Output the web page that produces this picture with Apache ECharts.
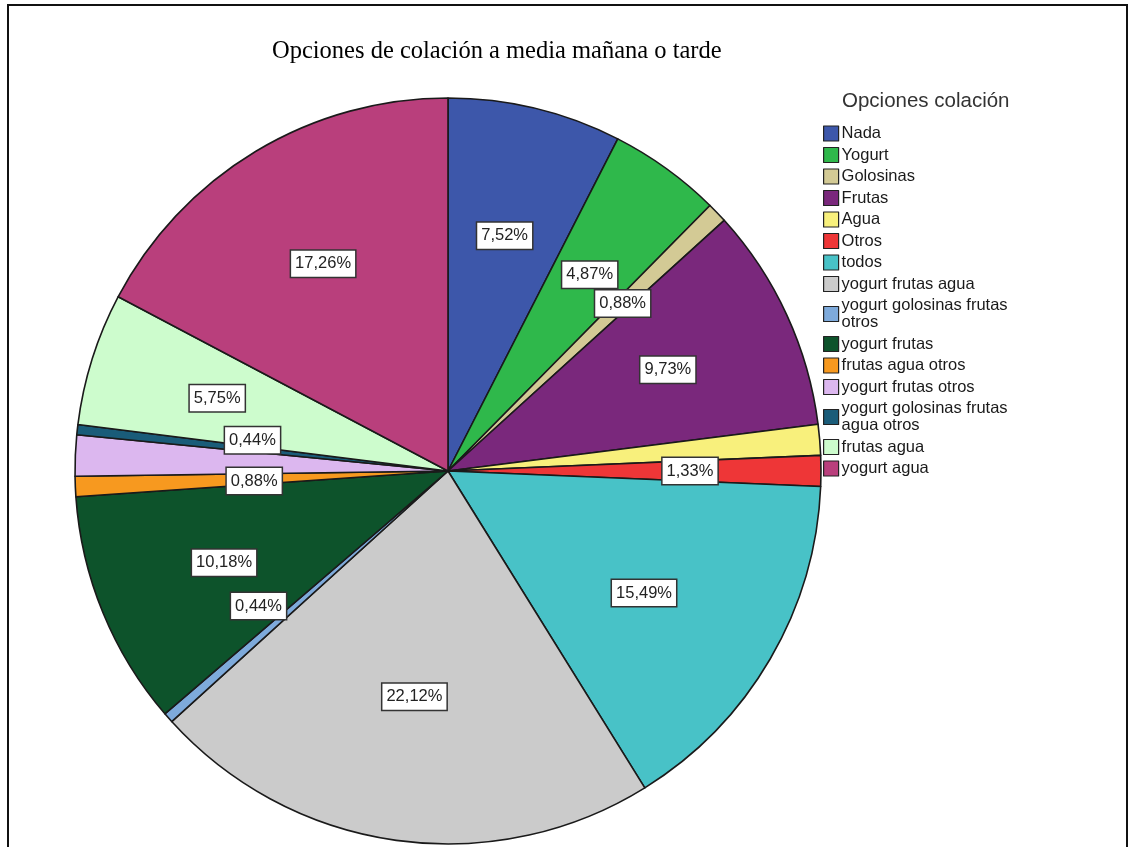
<!DOCTYPE html>
<html>
<head>
<meta charset="utf-8">
<script src="https://cdn.jsdelivr.net/npm/echarts@6/dist/echarts.min.js"></script>
<style>
  html, body { margin: 0; padding: 0; background: #ffffff; }
  #chart { width: 1131px; height: 847px; }
</style>
</head>
<body>
<div id="chart"></div>
<script>
// Snack options (percent of respondents)
const categories = [
  'Nada', 'Yogurt', 'Golosinas', 'Frutas', 'Agua', 'Otros', 'todos',
  'yogurt frutas agua', 'yogurt golosinas frutas otros', 'yogurt frutas',
  'frutas agua otros', 'yogurt frutas otros',
  'yogurt golosinas frutas agua otros', 'frutas agua', 'yogurt agua'
];
const shares = [
  7.52, 4.87, 0.88, 9.73, 1.33, 1.33, 15.49,
  22.12, 0.44, 10.18,
  0.88, 1.77,
  0.44, 5.75, 17.26
];
const sliceColors = [
  '#3d57aa', '#2fb84b', '#d3ca95', '#7a287c', '#f8f07c', '#ee3637', '#48c2c7',
  '#cbcbcb', '#7eaadb', '#0d532b',
  '#f7991f', '#dcb7ef',
  '#1a5c79', '#cdfccd', '#b93f7c'
];
// slices drawn without a value tag
const unlabelled = ['Agua', 'yogurt frutas otros'];

const CX = 448, CY = 471, R = 373;
const LABEL_R = 242;
// small offsets for tags that sit in crowded spots
const tagNudge = { 6: [-13, 0], 7: [0, -14], 8: [-8, -25], 10: [48, 0], 12: [45, -4] };

const fmtPct = v => v.toFixed(2).replace('.', ',') + '%';

const chart = echarts.init(document.getElementById('chart'), null, { renderer: 'canvas' });

chart.setOption({
  backgroundColor: '#ffffff',
  animation: false,
  title: [
    {
      text: 'Opciones de colación a media mañana o tarde',
      left: 267, top: 34,
      textStyle: { fontFamily: 'Liberation Serif', fontSize: 24.5, fontWeight: 'normal', color: '#000' }
    },
    {
      text: 'Opciones colación',
      left: 837, top: 86,
      textStyle: { fontFamily: 'Liberation Sans', fontSize: 20.5, fontWeight: 'normal', color: '#333' }
    }
  ],
  legend: {
    orient: 'vertical',
    left: 818, top: 120,
    itemWidth: 15, itemHeight: 15,
    itemGap: 4.5,
    icon: 'rect',
    selectedMode: false,
    data: categories,
    itemStyle: { borderColor: '#222', borderWidth: 1.2 },
    textStyle: {
      fontFamily: 'Liberation Sans', fontSize: 16.5, color: '#1a1a1a',
      lineHeight: 17, width: 192, overflow: 'break', padding: [0, 0, 0, -2]
    }
  },
  graphic: [
    {
      type: 'rect', silent: true, z: 100,
      shape: { x: 8, y: 5, width: 1119, height: 860 },
      style: { fill: 'none', stroke: '#111', lineWidth: 2 }
    }
  ],
  series: [
    {
      type: 'pie',
      center: [CX, CY],
      radius: [0, R],
      startAngle: 90,
      clockwise: true,
      avoidLabelOverlap: false,
      itemStyle: { borderColor: '#1a1a1a', borderWidth: 1.6 },
      emphasis: { disabled: true },
      label: {
        show: true,
        position: 'inside',
        formatter: p => fmtPct(p.value),
        fontFamily: 'Liberation Sans',
        fontSize: 16.5,
        color: '#222',
        backgroundColor: '#ffffff',
        borderColor: '#333',
        borderWidth: 1.5,
        padding: [5, 4, 4, 4]
      },
      labelLine: { show: false },
      labelLayout: function (p) {
        const r = p.labelRect;
        const vx = r.x + r.width / 2 - CX;
        const vy = r.y + r.height / 2 - CY;
        const d = Math.sqrt(vx * vx + vy * vy) || 1;
        const k = LABEL_R / d - 1;
        const n = tagNudge[p.dataIndex] || [0, 0];
        return { dx: vx * k + n[0], dy: vy * k + n[1] };
      },
      data: categories.map((name, i) => ({
        name: name,
        value: shares[i],
        itemStyle: { color: sliceColors[i] },
        label: { show: unlabelled.indexOf(name) < 0 }
      }))
    }
  ]
});
</script>
</body>
</html>
